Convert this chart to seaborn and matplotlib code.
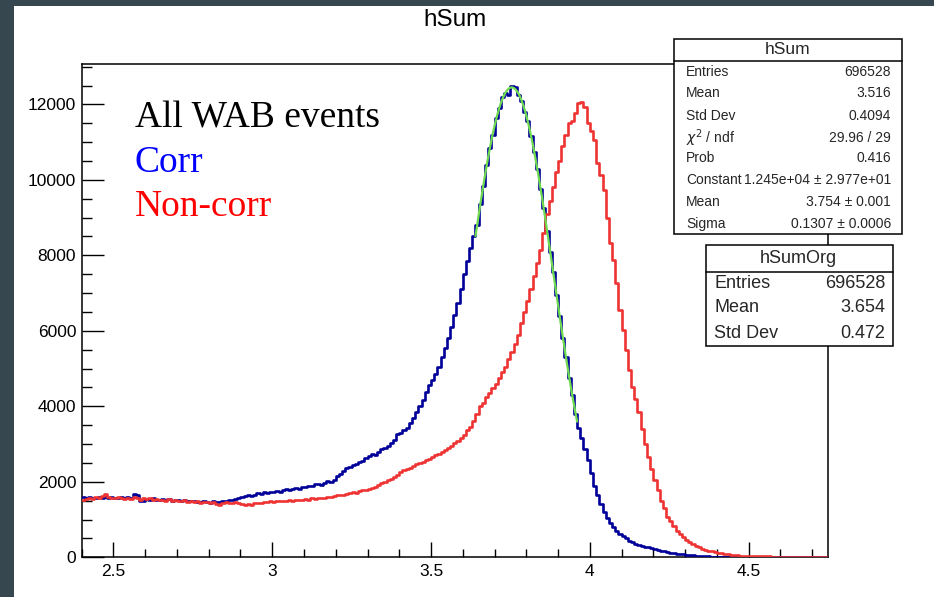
import numpy as np
import pandas as pd
import matplotlib
matplotlib.use("Agg")
import matplotlib.pyplot as plt
import seaborn as sns
from matplotlib.patches import Rectangle
from matplotlib.lines import Line2D
from matplotlib.ticker import MultipleLocator

# ---------------- data ----------------
bin_start = 2.40
bin_width = 0.01

# "Corr" histogram (hSum), counts per 0.01 bin starting at 2.40
corr_counts = [
    1590, 1560, 1600, 1570, 1580, 1610, 1560, 1590, 1570, 1600,
    1570, 1580, 1600, 1560, 1590, 1570, 1680, 1650, 1480, 1500,
    1540, 1520, 1560, 1530, 1510, 1550, 1520, 1540, 1500, 1530,
    1510, 1500, 1520, 1490, 1480, 1500, 1470, 1460, 1490, 1470,
    1450, 1480, 1460, 1470, 1500, 1490, 1520, 1510, 1540, 1560,
    1590, 1620, 1650, 1630, 1660, 1700, 1680, 1720, 1700, 1730,
    1740, 1760, 1720, 1780, 1800, 1770, 1820, 1840, 1810, 1860,
    1870, 1900, 1880, 1930, 1950, 1920, 1980, 2020, 1990, 2060,
    2150, 2220, 2280, 2360, 2400, 2440, 2480, 2520, 2560, 2620,
    2680, 2740, 2720, 2800, 2860, 2900, 2960, 3040, 3120, 3280,
    3300, 3360, 3420, 3550, 3700, 3850, 4000, 4180, 4380, 4560,
    4700, 4850, 5050, 5300, 5550, 5800, 6100, 6420, 6750, 7100,
    7500, 7850, 8200, 8500, 8800, 9350, 9850, 10400, 10850, 11200,
    11650, 11900, 12200, 12300, 12250, 12480, 12450, 12250, 12100, 11800,
    11550, 11150, 10750, 10300, 9750, 9250, 8650, 8100, 7550, 6950,
    6400, 5800, 5300, 4750, 4300, 3800, 3420, 3150, 2860, 2570,
    2240, 1900, 1640, 1400, 1200, 1050, 920, 810, 700, 620,
    560, 500, 440, 400, 360, 330, 305, 280, 260, 240,
    220, 200, 180, 160, 140, 125, 110, 95, 85, 75,
    65, 55, 48, 42, 36, 30, 26, 22, 18, 15,
    12, 10, 8, 7, 6, 5, 4, 4, 3, 3,
    3, 2, 2, 2, 1, 2, 1, 1, 1, 1,
    1, 1, 0, 1, 0, 1, 0, 0, 1, 0,
    0, 0, 1, 0, 0,
]

# "Non-corr" histogram (hSumOrg)
noncorr_counts = [
    1520, 1550, 1580, 1540, 1600, 1560, 1620, 1690, 1600, 1570,
    1560, 1600, 1580, 1540, 1570, 1550, 1590, 1560, 1530, 1570,
    1540, 1560, 1520, 1550, 1510, 1530, 1500, 1540, 1490, 1510,
    1500, 1480, 1510, 1470, 1490, 1460, 1480, 1450, 1470, 1460,
    1450, 1470, 1420, 1390, 1440, 1460, 1430, 1450, 1470, 1440,
    1400, 1380, 1420, 1390, 1430, 1450, 1440, 1470, 1460, 1480,
    1470, 1490, 1480, 1500, 1490, 1510, 1500, 1520, 1510, 1530,
    1540, 1530, 1560, 1550, 1570, 1580, 1570, 1600, 1610, 1630,
    1640, 1660, 1650, 1690, 1700, 1720, 1710, 1750, 1780, 1770,
    1800, 1840, 1870, 1910, 1960, 2000, 2040, 2080, 2130, 2180,
    2250, 2300, 2330, 2370, 2420, 2460, 2490, 2530, 2570, 2610,
    2650, 2700, 2740, 2790, 2840, 2900, 2960, 3020, 3080, 3150,
    3250, 3380, 3450, 3600, 3800, 4000, 4100, 4250, 4350, 4480,
    4600, 4750, 4900, 5050, 5250, 5450, 5650, 5900, 6200, 6500,
    6800, 7100, 7450, 7800, 8150, 8600, 9100, 9450, 9800, 10200,
    10500, 10900, 11200, 11500, 11550, 11780, 12030, 12050, 11920, 11500,
    11300, 11050, 10440, 10120, 9720, 9000, 8340, 7870, 7260, 6540,
    6010, 5480, 4950, 4500, 4200, 3850, 3400, 3000, 2650, 2350,
    2050, 1780, 1500, 1300, 1080, 950, 820, 700, 610, 530,
    460, 400, 350, 300, 260, 230, 200, 180, 160, 140,
    120, 105, 92, 80, 70, 60, 52, 45, 40, 35,
    32, 30, 28, 26, 25, 24, 22, 21, 20, 19,
    18, 17, 16, 15, 15, 14, 13, 13, 12, 12,
    11, 11, 10, 10, 10,
]

# Gaussian fit on hSum (parameters from the stats box)
fit_constant = 12450.0
fit_mean = 3.754
fit_sigma = 0.1307
fit_low = 3.64
fit_high = 3.96

x_ticks = [2.5, 3.0, 3.5, 4.0, 4.5]
x_tick_labels = ["2.5", "3", "3.5", "4", "4.5"]
y_ticks = [0, 2000, 4000, 6000, 8000, 10000, 12000]
y_tick_labels = ["0", "2000", "4000", "6000", "8000", "10000", "12000"]
x_limits = (2.40, 4.75)
y_limits = (0, 13070)

stats_hsum = [
    ("Entries", "696528"),
    ("Mean", "3.516"),
    ("Std Dev", "0.4094"),
    (r"$\chi^{2}$ / ndf", "29.96 / 29"),
    ("Prob", "0.416"),
    ("Constant", "1.245e+04 \u00b1 2.977e+01"),
    ("Mean", "3.754 \u00b1 0.001"),
    ("Sigma", "0.1307 \u00b1 0.0006"),
]
stats_hsumorg = [
    ("Entries", "696528"),
    ("Mean", "3.654"),
    ("Std Dev", "0.472"),
]
labels_text = ["All WAB events", "Corr", "Non-corr"]

# ---------------- style ----------------
sns.set_theme(style="white")
plt.rcParams["font.family"] = ["Liberation Sans", "DejaVu Sans"]
plt.rcParams["mathtext.fontset"] = "dejavusans"

W, H = 934, 597
fig = plt.figure(figsize=(W / 100, H / 100), dpi=100)
fig.patch.set_facecolor("#37474f")


def fx(px):
    return px / W


def fy(py):
    return 1 - py / H


# white canvas
fig.add_artist(Rectangle((fx(14), 0), 1 - fx(14), fy(6), transform=fig.transFigure,
                         facecolor="white", edgecolor="none", zorder=-5))

ax_l, ax_r, ax_t, ax_b = 81.7, 828, 64, 557.3
ax = fig.add_axes([fx(ax_l), fy(ax_b), fx(ax_r - ax_l), (ax_b - ax_t) / H])
ax.set_facecolor("white")

blue = "#000099"
red = "#ee3333"
green = "#6fdc4f"

n = len(corr_counts)
bin_end = bin_start + bin_width * n
centers = bin_start + bin_width * (np.arange(n) + 0.5)
df_corr = pd.DataFrame({"x": centers, "w": np.array(corr_counts, dtype=float)})
df_non = pd.DataFrame({"x": centers, "w": np.array(noncorr_counts, dtype=float)})

sns.histplot(data=df_corr, x="x", weights="w", bins=n, binrange=(bin_start, bin_end),
             element="step", fill=False, color=blue, linewidth=1.9, zorder=3, ax=ax)
sns.histplot(data=df_non, x="x", weights="w", bins=n, binrange=(bin_start, bin_end),
             element="step", fill=False, color=red, linewidth=1.9, zorder=3.1, ax=ax)

xf = np.linspace(fit_low, fit_high, 300)
yf = fit_constant * np.exp(-0.5 * ((xf - fit_mean) / fit_sigma) ** 2)
sns.lineplot(x=xf, y=yf, color=green, linewidth=1.6, sort=False, zorder=3.2, ax=ax)

ax.set_xlim(*x_limits)
ax.set_ylim(*y_limits)
ax.set_xlabel("")
ax.set_ylabel("")
ax.set_xticks(x_ticks)
ax.set_xticklabels(x_tick_labels)
ax.set_yticks(y_ticks)
ax.set_yticklabels(y_tick_labels)
ax.xaxis.set_minor_locator(MultipleLocator(0.1))
ax.yaxis.set_minor_locator(MultipleLocator(500))
ax.tick_params(axis="both", which="both", direction="in", colors="black",
               bottom=True, left=True, top=False, right=False, labelsize=12.5)
ax.tick_params(axis="x", which="major", length=10.5, width=1.0, pad=5)
ax.tick_params(axis="x", which="minor", length=5.5, width=1.0)
ax.tick_params(axis="y", which="major", length=15.5, width=1.0, pad=4)
ax.tick_params(axis="y", which="minor", length=7.5, width=1.0)
for s in ax.spines.values():
    s.set_visible(True)
    s.set_color("black")
    s.set_linewidth(1.1)
ax.grid(False)

# title
fig.text(fx(455), fy(20), "hSum", ha="center", va="center", fontsize=17.5, color="black")

# annotations
serif = ["Liberation Serif", "DejaVu Serif"]
for txt, col, base in zip(labels_text, ["black", "#0000ff", "#ff0000"], [127, 172, 216]):
    fig.text(fx(135), fy(base), txt, ha="left", va="baseline", fontsize=27,
             color=col, family=serif)


def stat_box(x0, x1, y0, y1, head_y, title, rows, row_ys, fs, tfs, xl, xr, title_x):
    fig.add_artist(Rectangle((fx(x0), fy(y1)), fx(x1 - x0), (y1 - y0) / H,
                             transform=fig.transFigure, facecolor="white",
                             edgecolor="black", linewidth=1.1, zorder=10))
    fig.add_artist(Line2D([fx(x0), fx(x1)], [fy(head_y), fy(head_y)],
                          transform=fig.transFigure, color="black", linewidth=1.1, zorder=11))
    fig.text(fx(title_x), fy((y0 + head_y) / 2), title, ha="center", va="center",
             fontsize=tfs, zorder=12)
    for (k, v), ry in zip(rows, row_ys):
        fig.text(fx(xl), fy(ry), k, ha="left", va="center", fontsize=fs, zorder=12)
        fig.text(fx(xr), fy(ry), v, ha="right", va="center", fontsize=fs, zorder=12)


stat_box(674, 902, 39, 234, 61, "hSum", stats_hsum,
         [72, 93, 116, 138, 158, 180, 202, 224], 10, 12.5, 686, 891, 788)
stat_box(706, 893, 245, 346, 272, "hSumOrg", stats_hsumorg,
         [284, 308, 333], 13, 13, 714, 885, 798)

fig.savefig("out.png", dpi=100, facecolor=fig.get_facecolor())
